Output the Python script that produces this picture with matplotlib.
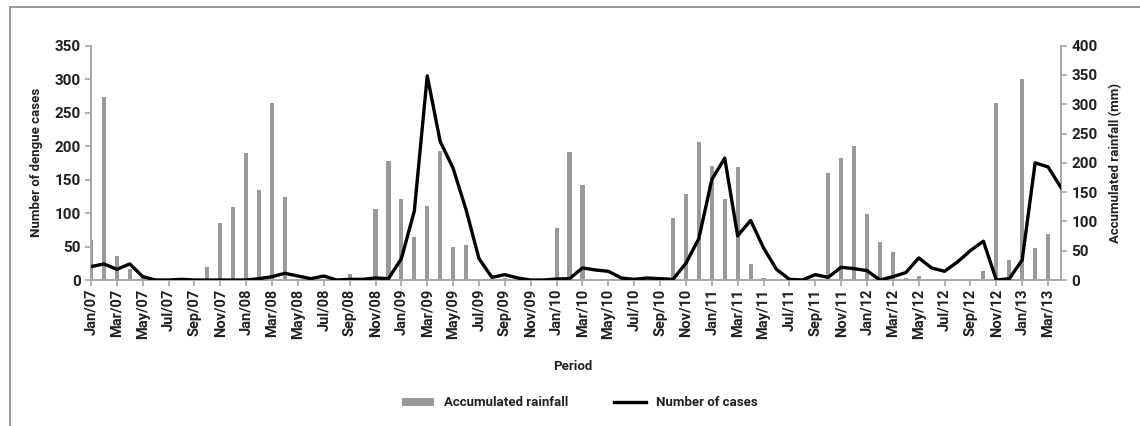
import matplotlib
matplotlib.use("Agg")
import matplotlib.pyplot as plt
import numpy as np
from matplotlib.patches import Rectangle

plt.rcParams['font.family'] = ['Roboto', 'DejaVu Sans']
plt.rcParams['font.weight'] = 'bold'
plt.rcParams['axes.labelweight'] = 'bold'

# month labels Jan/07 .. Apr/13
months = ['Jan', 'Feb', 'Mar', 'Apr', 'May', 'Jun', 'Jul', 'Aug', 'Sep', 'Oct', 'Nov', 'Dec']
periods = [f'{m}/{y:02d}' for y in range(7, 14) for m in months][:76]

# accumulated rainfall (mm), right axis
rainfall = [68, 313, 41, 19, 8, 0, 0, 0, 0, 22, 98, 125,
            217, 154, 302, 142, 0, 0, 0, 0, 11, 0, 122, 204,
            139, 73, 127, 221, 57, 60, 0, 0, 4, 0, 0, 0,
            88, 218, 162, 0, 0, 0, 0, 0, 0, 106, 146, 235,
            195, 139, 193, 27, 3, 0, 0, 0, 0, 183, 208, 228,
            112, 65, 47, 4, 7, 1, 0, 0, 0, 16, 302, 35,
            344, 55, 79, 0]

# number of dengue cases, left axis
cases = [20, 24, 16, 24, 5, 0, 0, 1, 0, 0, 0, 0,
         0, 2, 5, 10, 6, 2, 6, 0, 1, 1, 3, 2,
         32, 103, 305, 207, 167, 105, 32, 4, 8, 3, 0, 0,
         1.5, 2, 18, 15, 13, 3, 1, 3, 2, 1, 25, 62,
         150, 182, 66, 89, 48, 16, 1, 0, 8, 4, 19, 17,
         14, 0, 5, 11, 33, 18, 13, 27, 44, 58, 0, 2,
         30, 175, 169, 138]

x = np.arange(len(periods))
grey = '#a6a6a6'
txt = '#231f20'

fig = plt.figure(figsize=(11.4, 4.26), dpi=100)
ax = fig.add_axes([0.0798, 0.3427, 0.8509, 0.55])
ax2 = ax.twinx()

# bars on the rainfall axis, line on top
ax2.bar(x, rainfall, width=0.32, color='#999999', zorder=1, label='Accumulated rainfall')
ax.set_zorder(ax2.get_zorder() + 1)
ax.patch.set_visible(False)
ax.plot(x, cases, color='black', lw=2.4, zorder=3, label='Number of cases')

ax.set_xlim(0, 75)
ax.set_ylim(0, 350)
ax2.set_ylim(0, 400)
ax.set_yticks(range(0, 351, 50))
ax2.set_yticks(range(0, 401, 50))
ax.set_xticks(x[::2])
ax.set_xticklabels(periods[::2], rotation=90)

for a in (ax, ax2):
    a.spines['top'].set_visible(False)
    for s in ('left', 'right', 'bottom'):
        a.spines[s].set_color(grey)
        a.spines[s].set_linewidth(1.2)
    a.tick_params(axis='both', colors=grey, labelcolor=txt, length=4, width=1.2, labelsize=11)
ax.tick_params(axis='x', labelsize=10.5, pad=2)

ax.set_ylabel('Number of dengue cases', fontsize=9.5, color=txt, labelpad=8)
ax2.set_ylabel('Accumulated rainfall (mm)', fontsize=9.5, color=txt, labelpad=8)
fig.text(0.502, 1 - 367 / 426, 'Period', ha='center', va='center', fontsize=9.5,
         color=txt, fontweight='bold')

h1, l1 = ax2.get_legend_handles_labels()
h2, l2 = ax.get_legend_handles_labels()
leg = fig.legend(h1 + h2, l1 + l2, loc='center', bbox_to_anchor=(0.509, 1 - 403 / 426), ncol=2,
                 frameon=False, handlelength=2.4, handleheight=0.6, columnspacing=3.45,
                 prop={'size': 9.5, 'weight': 'bold'})
for t in leg.get_texts():
    t.set_color(txt)

# outer frame (only left and top edges visible)
fig.patches.append(Rectangle((10 / 1140, -0.1), 1.2, 1.1 - 7 / 426, transform=fig.transFigure,
                             fill=False, edgecolor='#888888', lw=1.2))

fig.savefig('out.png', dpi=100)
